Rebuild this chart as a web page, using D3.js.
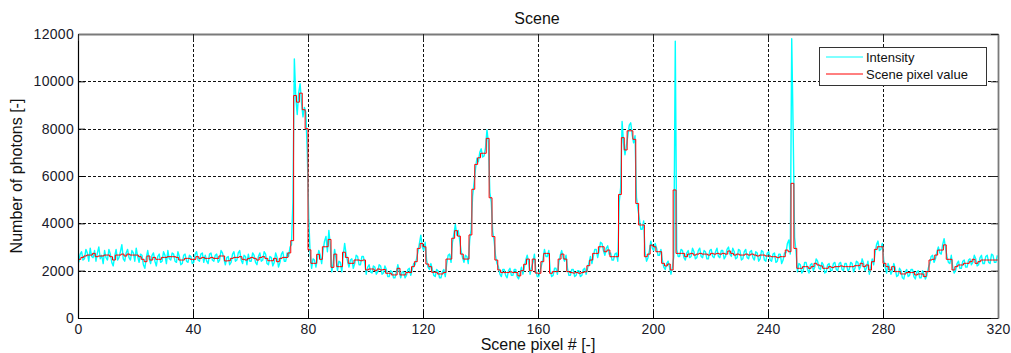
<!DOCTYPE html>
<html>
<head>
<meta charset="utf-8">
<script src="https://cdn.jsdelivr.net/npm/d3@7"></script>
<style>
  html, body { margin: 0; padding: 0; background: #fff; }
  svg { display: block; font-family: "Liberation Sans", Arial, Helvetica, sans-serif; }
</style>
</head>
<body>
<svg id="chart" width="1011" height="353"></svg>
<script>
// Tick values for both axes
const xTicks = [0, 40, 80, 120, 160, 200, 240, 280, 320];
const yTicks = [0, 2000, 4000, 6000, 8000, 10000, 12000];

// Scene pixel value: one value per scene pixel (320 pixels)
const sceneValues = [
  2480,2560,2620,2660,2660,2730,2590,2620,2620,2660,
  2660,2590,2450,2660,2660,2700,2620,2700,2660,2660,
  2660,2590,2480,2380,2620,2450,2560,2480,2480,2560,
  2560,2590,2590,2590,2560,2450,2450,2520,2520,2480,
  2480,2590,2520,2560,2520,2520,2560,2520,2520,2620,
  2620,2410,2420,2520,2560,2560,2590,2480,2450,2520,
  2560,2520,2450,2560,2590,2520,2420,2420,2520,2380,
  2520,2560,2560,2750,3270,9400,9120,9500,8800,8000,
  2880,2310,2310,2690,2480,3010,3010,3320,2140,2700,
  2170,2170,2780,2560,2310,2310,2450,2450,2420,2450,
  2030,2070,2070,2000,2070,2030,2050,1890,1890,1820,
  1820,2100,1820,1820,1920,1920,2170,2380,2940,3150,
  3010,2280,2170,1930,1930,1860,1860,1920,2490,2490,
  3370,3690,3460,2700,2490,2490,3510,5440,6490,6770,
  6960,6960,7590,5080,3440,2450,2030,1920,1920,1920,
  1950,1920,1920,1780,2000,2270,2490,2000,2490,1900,
  1890,2380,2730,2730,1890,1960,1960,2490,2700,2490,
  1960,1920,1900,1920,1890,1920,1950,2210,2450,2730,
  2730,3010,3010,2800,2870,2590,2590,2590,5220,7620,
  7100,7910,7910,7550,4840,3930,3930,2590,2700,3080,
  3010,2800,2800,2310,2200,2280,2030,5410,2730,2730,
  2730,2590,2700,2730,2660,2700,2730,2700,2700,2660,
  2730,2700,2730,2700,2730,2700,2830,2730,2660,2700,
  2660,2660,2700,2660,2700,2660,2620,2660,2660,2620,
  2620,2590,2590,2550,2590,2590,2870,2800,5690,2940,
  2100,2100,2170,2170,2100,2170,2310,2240,2200,2100,
  2100,2170,2130,2170,2170,2200,2170,2170,2170,2170,
  2210,2210,2310,2170,2240,2030,2380,2900,3010,3010,
  2310,2170,2030,2170,1960,1960,1860,1860,1920,1920,
  1920,1820,1860,1860,1750,1960,2450,2480,2660,2870,
  2870,3090,2480,2480,2030,2170,2240,2240,2310,2310,
  2380,2480,2310,2380,2450,2450,2450,2450,2450,2450
];

// Measured intensity: two samples per scene pixel
const samplesPerPixel = 2;
const intensityValues = [
  2350,2700,2800,2450,2500,2900,2750,2400,2950,2600,
  2550,2850,2400,2750,3000,2500,2650,2300,2850,2550,
  2450,2900,2700,2350,2200,2600,2900,2450,2550,2800,
  3100,2500,2400,2750,2900,2550,2450,2850,2750,2400,
  2950,2600,2350,2700,2650,2250,2100,2550,2850,2500,
  2300,2650,2750,2400,2200,2600,2700,2350,2400,2800,
  2650,2300,2850,2500,2450,2750,2700,2400,2350,2800,
  2600,2250,2300,2650,2700,2400,2350,2650,2600,2300,
  2350,2700,2800,2450,2400,2700,2750,2350,2650,2400,
  2300,2700,2750,2450,2400,2650,2700,2350,2450,2850,
  2750,2500,2250,2550,2600,2250,2350,2700,2800,2400,
  2450,2750,2850,2450,2300,2650,2600,2250,2700,2400,
  2400,2750,2650,2350,2250,2600,2750,2400,2450,2800,
  2700,2300,2250,2600,2550,2200,2350,2750,2550,2150,
  2350,2700,2800,2400,2400,2750,2600,3000,3100,4900,
  10950,9300,8600,9500,9900,9100,8500,8900,8700,7000,
  4250,2700,2100,2500,2450,2150,2500,2850,2650,2300,
  2850,3250,3450,2800,3700,3100,1950,2300,2900,2500,
  2000,2400,2350,1950,2650,3150,2700,2400,2150,2450,
  2500,2100,2300,2650,2600,2250,2250,2600,2600,2300,
  1850,2150,2250,1950,1900,2200,2150,1850,1950,2250,
  2200,1850,1900,2200,2050,1750,1750,2000,1950,1700,
  1700,1950,2250,1950,1700,1950,1950,1700,1800,2050,
  2100,1800,2050,2300,2250,2500,2800,3150,3500,3000,
  2850,3200,2450,2150,2050,2300,2050,1800,1750,2050,
  2000,1700,1700,1950,2050,1750,2300,2650,2700,2350,
  3200,3550,3950,3500,3700,3300,2850,2550,2350,2650,
  2600,2300,3300,3750,5150,5700,6300,6750,6600,7000,
  7150,6800,6850,7200,7950,7400,5300,4900,3650,3250,
  2600,2300,2150,1850,1750,2050,2050,1800,1700,2000,
  2100,1800,1800,2050,2050,1750,1650,1900,2150,1850,
  2150,2450,2650,2350,1850,2150,2350,2700,2000,1750,
  1750,2000,2250,2500,2900,2600,2600,2850,2000,1750,
  1800,2100,2100,1850,2350,2650,2850,2550,2400,2650,
  2100,1800,1800,2050,2050,1750,1800,2000,2000,1750,
  1800,2050,2100,1850,2100,2350,2600,2300,2600,2900,
  2900,2550,2850,3200,3150,2850,2650,2950,3050,2700,
  2750,2450,2450,2700,2750,2400,4900,5500,8300,7400,
  6900,7300,7700,8150,8250,7750,7400,7700,5100,4600,
  4200,3750,3750,4100,2750,2400,2550,2850,3250,2950,
  2850,3150,2950,2650,2650,2900,2450,2150,2050,2300,
  2400,2150,1850,2150,2600,11700,2900,2600,2600,2900,
  2850,2550,2450,2750,2850,2550,2600,2950,2800,2500,
  2550,2850,2950,2600,2550,2850,2800,2500,2500,2850,
  2900,2600,2550,2800,2950,2600,2550,2850,2850,2500,
  2600,2900,3000,2700,2600,2950,2800,2500,2550,2900,
  2850,2450,2500,2800,2900,2550,2500,2800,2850,2550,
  2450,2800,2750,2400,2500,2850,2800,2450,2400,2750,
  2800,2450,2400,2700,2750,2350,2400,2700,2700,2300,
  2450,2750,2750,3150,3300,2700,11800,7900,3400,2800,
  1950,2300,2250,1900,2000,2350,2350,2050,1900,2250,
  2300,2000,2150,2500,2400,2100,2050,2350,2250,1900,
  1950,2250,2300,2000,2000,2300,2350,2050,2000,2300,
  2350,2050,2000,2300,2300,2000,2050,2350,2300,1950,
  2100,2400,2350,2050,2200,2500,2300,2000,2100,2400,
  1850,2150,2500,2250,2750,3100,3250,2850,2900,3150,
  2450,2150,1900,2300,2150,1850,2000,2300,2100,1750,
  1800,2100,2000,1700,1650,1950,2050,1750,1800,2050,
  2050,1750,1650,1950,2000,1700,1700,2000,1850,1650,
  1800,2100,2300,2600,2650,2350,2500,2800,3000,2750,
  2700,3100,3350,2950,2600,2350,2300,2650,2150,1900,
  2000,2300,2400,2100,2100,2400,2450,2150,2150,2450,
  2500,2250,2350,2650,2500,2200,2250,2550,2650,2300,
  2300,2600,2650,2350,2300,2700,2650,2350,2350,2650
];

const seriesNames = ["Intensity", "Scene pixel value"];
const seriesColors = ["#00ffff", "#ff0000"];

const svg = d3.select("#chart");
const plotLeft = 78, plotRight = 998, plotTop = 34, plotBottom = 318;

const x = d3.scaleLinear().domain([0, 320]).range([plotLeft, plotRight]);
const y = d3.scaleLinear().domain([0, 12000]).range([plotBottom, plotTop]);

// plot background
svg.append("rect").attr("x", plotLeft).attr("y", plotTop)
  .attr("width", plotRight - plotLeft).attr("height", plotBottom - plotTop).attr("fill", "#fff");

// dotted grid
const grid = svg.append("g").attr("stroke", "#111").attr("stroke-width", 1)
  .attr("stroke-dasharray", "2.5,2.5").attr("shape-rendering", "crispEdges");
grid.selectAll("line.gx").data(xTicks.slice(1, -1)).join("line").attr("class", "gx")
  .attr("x1", d => Math.round(x(d)) + 0.5).attr("x2", d => Math.round(x(d)) + 0.5)
  .attr("y1", plotTop).attr("y2", plotBottom);
grid.selectAll("line.gy").data(yTicks.slice(1, -1)).join("line").attr("class", "gy")
  .attr("x1", plotLeft).attr("x2", plotRight)
  .attr("y1", d => Math.round(y(d)) + 0.5).attr("y2", d => Math.round(y(d)) + 0.5);

// clip for data
svg.append("clipPath").attr("id", "plotClip").append("rect")
  .attr("x", plotLeft).attr("y", plotTop).attr("width", plotRight - plotLeft).attr("height", plotBottom - plotTop);

const dataG = svg.append("g").attr("clip-path", "url(#plotClip)");

// intensity samples
const intensityLine = d3.line()
  .x((d, i) => x((i + 0.5) / samplesPerPixel))
  .y(d => y(d));
dataG.append("path").datum(intensityValues)
  .attr("fill", "none").attr("stroke", seriesColors[0]).attr("stroke-width", 1.4)
  .attr("stroke-linejoin", "round")
  .attr("d", intensityLine);

// scene pixel values as stairs
const scenePoints = sceneValues.map((v, i) => [i, v]);
scenePoints.push([sceneValues.length, sceneValues[sceneValues.length - 1]]);
const stepLine = d3.line().curve(d3.curveStepAfter)
  .x(d => x(d[0])).y(d => y(d[1]));
dataG.append("path").datum(scenePoints)
  .attr("fill", "none").attr("stroke", seriesColors[1]).attr("stroke-width", 1)
  .attr("d", stepLine);

// axes
const tickFont = "14px";
const xAxis = svg.append("g").attr("transform", `translate(0,${plotBottom})`)
  .call(d3.axisBottom(x).tickValues(xTicks).tickSize(-7).tickPadding(6).tickSizeOuter(0));
const yAxis = svg.append("g").attr("transform", `translate(${plotLeft},0)`)
  .call(d3.axisLeft(y).tickValues(yTicks).tickSize(-7).tickPadding(4).tickSizeOuter(0).tickFormat(d3.format("d")));
const xAxisTop = svg.append("g").attr("transform", `translate(0,${plotTop})`)
  .call(d3.axisTop(x).tickValues(xTicks).tickSize(-7).tickSizeOuter(0).tickFormat(""));
const yAxisRight = svg.append("g").attr("transform", `translate(${plotRight},0)`)
  .call(d3.axisRight(y).tickValues(yTicks).tickSize(-7).tickSizeOuter(0).tickFormat(""));

[xAxis, yAxis].forEach(g => {
  g.selectAll("text").attr("font-size", tickFont).attr("fill", "#1a1a2a")
    .attr("font-family", "'Liberation Sans', Arial, sans-serif").attr("letter-spacing", "0.3px");
  g.select(".domain").attr("stroke", "#000").attr("stroke-width", 1.2);
  g.selectAll(".tick line").attr("stroke", "#000");
});
[xAxisTop, yAxisRight].forEach(g => {
  g.select(".domain").attr("stroke", "#7a7a7a").attr("stroke-width", 1.8);
  g.selectAll(".tick line").attr("stroke", "#222");
});

// title and axis labels
svg.append("text").attr("x", 537).attr("y", 24).attr("text-anchor", "middle")
  .attr("font-size", "16px").attr("fill", "#111").text("Scene");
svg.append("text").attr("x", 538).attr("y", 350).attr("text-anchor", "middle")
  .attr("font-size", "16px").attr("fill", "#111").text("Scene pixel # [-]");
svg.append("text").attr("transform", `translate(22,${(plotTop + plotBottom) / 2}) rotate(-90)`)
  .attr("text-anchor", "middle").attr("font-size", "16px").attr("fill", "#111")
  .text("Number of photons [-]");

// legend
const lg = svg.append("g");
lg.append("rect").attr("x", 819.5).attr("y", 47.5).attr("width", 167).attr("height", 38)
  .attr("fill", "#fff").attr("stroke", "#333").attr("stroke-width", 1);
const legendRows = [57, 74];
seriesNames.forEach((name, i) => {
  lg.append("line").attr("x1", 826).attr("x2", 863)
    .attr("y1", legendRows[i]).attr("y2", legendRows[i])
    .attr("stroke", seriesColors[i]).attr("stroke-width", 1);
  lg.append("text").attr("x", 866).attr("y", legendRows[i] + 5)
    .attr("font-size", "13px").attr("fill", "#111").text(name);
});
</script>
</body>
</html>
